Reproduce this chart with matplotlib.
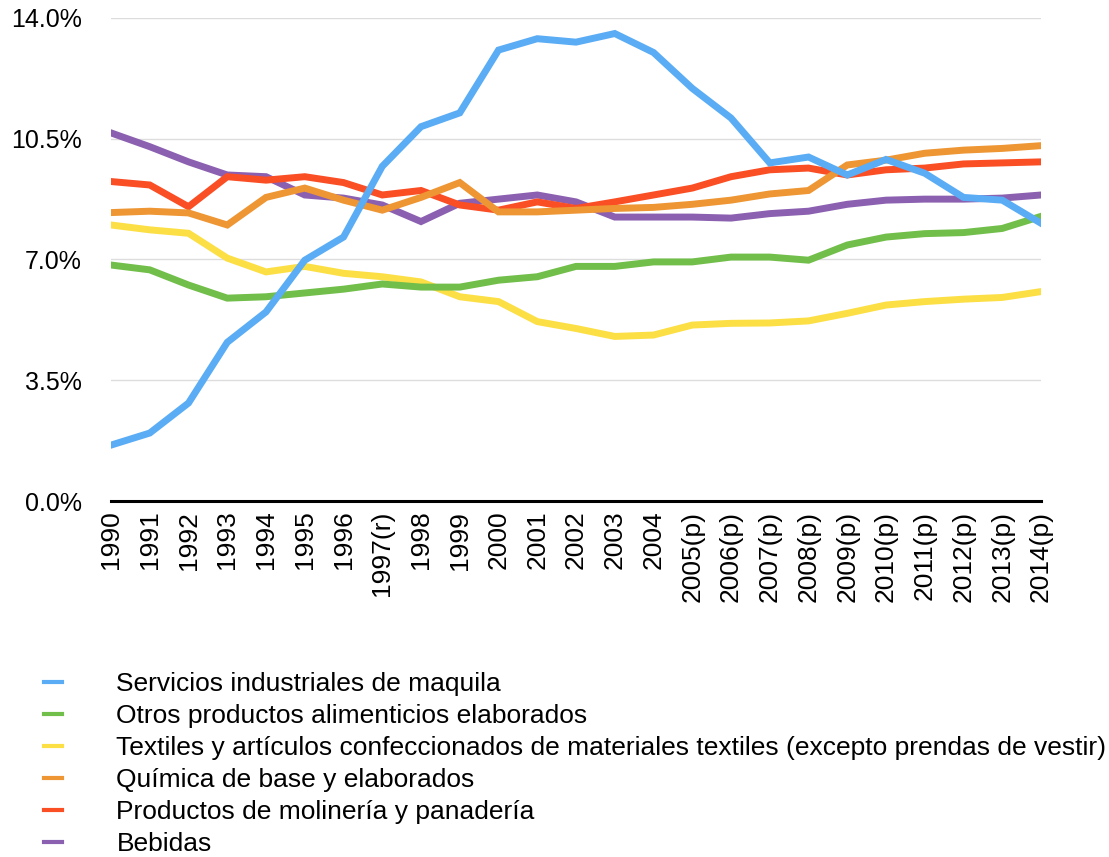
import matplotlib
matplotlib.use("Agg")
import matplotlib.pyplot as plt
from matplotlib.lines import Line2D
from matplotlib.ticker import FuncFormatter

plt.rcParams["font.family"] = ["Liberation Sans", "DejaVu Sans"]

years = ["1990", "1991", "1992", "1993", "1994", "1995", "1996", "1997(r)", "1998", "1999",
         "2000", "2001", "2002", "2003", "2004", "2005(p)", "2006(p)", "2007(p)", "2008(p)",
         "2009(p)", "2010(p)", "2011(p)", "2012(p)", "2013(p)", "2014(p)"]

maquila = [1.62, 1.97, 2.84, 4.6, 5.48, 6.98, 7.65, 9.7, 10.85, 11.25,
           13.07, 13.4, 13.3, 13.55, 13.0, 11.96, 11.1, 9.8, 9.97, 9.45,
           9.9, 9.5, 8.8, 8.72, 8.05]
alimenticios = [6.84, 6.7, 6.26, 5.88, 5.92, 6.03, 6.14, 6.29, 6.2, 6.2,
                6.4, 6.5, 6.8, 6.8, 6.93, 6.93, 7.07, 7.07, 6.98, 7.42,
                7.65, 7.75, 7.78, 7.9, 8.25]
textiles = [8.0, 7.86, 7.76, 7.04, 6.64, 6.8, 6.6, 6.5, 6.35, 5.92,
            5.78, 5.2, 5.0, 4.77, 4.81, 5.1, 5.15, 5.16, 5.22, 5.44,
            5.68, 5.78, 5.85, 5.9, 6.07]
quimica = [8.36, 8.4, 8.35, 8.0, 8.8, 9.07, 8.72, 8.43, 8.8, 9.23,
           8.38, 8.38, 8.43, 8.48, 8.51, 8.6, 8.72, 8.9, 9.0, 9.74,
           9.88, 10.08, 10.17, 10.22, 10.3]
molineria = [9.26, 9.16, 8.53, 9.4, 9.3, 9.4, 9.23, 8.87, 9.0, 8.58,
             8.43, 8.67, 8.48, 8.67, 8.87, 9.07, 9.4, 9.6, 9.65, 9.45,
             9.6, 9.65, 9.77, 9.8, 9.83]
bebidas = [10.67, 10.27, 9.83, 9.45, 9.4, 8.87, 8.78, 8.58, 8.1, 8.63,
           8.75, 8.87, 8.67, 8.23, 8.23, 8.23, 8.2, 8.33, 8.4, 8.6,
           8.72, 8.75, 8.75, 8.78, 8.87]

labels = ["Servicios industriales de maquila",
          "Otros productos alimenticios elaborados",
          "Textiles y artículos confeccionados de materiales textiles (excepto prendas de vestir)",
          "Química de base y elaborados",
          "Productos de molinería y panadería",
          "Bebidas"]
colors = ["#5AACF5", "#72BE4A", "#FCDF45", "#EE9633", "#FA4E25", "#8B60B0"]

series = [maquila, alimenticios, textiles, quimica, molineria, bebidas]

fig = plt.figure(figsize=(11.09, 8.57), dpi=100)
ax = fig.add_axes([0.1001, 0.4154, 0.8386, 0.5636])

x = list(range(len(years)))
# draw in reverse so the blue line ends up on top
for z, (vals, c) in enumerate(zip(series[::-1], colors[::-1])):
    ax.plot(x, vals, color=c, lw=5, solid_joinstyle="miter", zorder=3 + z)

ax.set_xlim(0, len(years) - 1)
ax.set_ylim(0, 14)
ax.set_yticks([0, 3.5, 7, 10.5, 14])
ax.yaxis.set_major_formatter(FuncFormatter(lambda v, p: f"{v:.1f}%"))
ax.set_xticks(x)
ax.set_xticklabels(years, rotation=90, fontsize=19)
ax.tick_params(axis="y", labelsize=18, length=0, pad=21)
ax.tick_params(axis="x", length=0, pad=7)
ax.grid(axis="y", color="#dddddd", lw=1)
ax.set_axisbelow(True)
for s in ["left", "right", "top"]:
    ax.spines[s].set_visible(False)
ax.spines["bottom"].set_linewidth(2.2)
ax.spines["bottom"].set_color("black")
ax.spines["bottom"].set_zorder(20)

handles = [Line2D([0], [0], color=c, lw=3) for c in colors]
fig.legend(handles, labels, loc="upper left", bbox_to_anchor=(0.03, 0.228),
           frameon=False, fontsize=19, handlelength=0.7, handletextpad=2.05,
           labelspacing=0.3, borderaxespad=0)

fig.savefig("out.png", dpi=100)
